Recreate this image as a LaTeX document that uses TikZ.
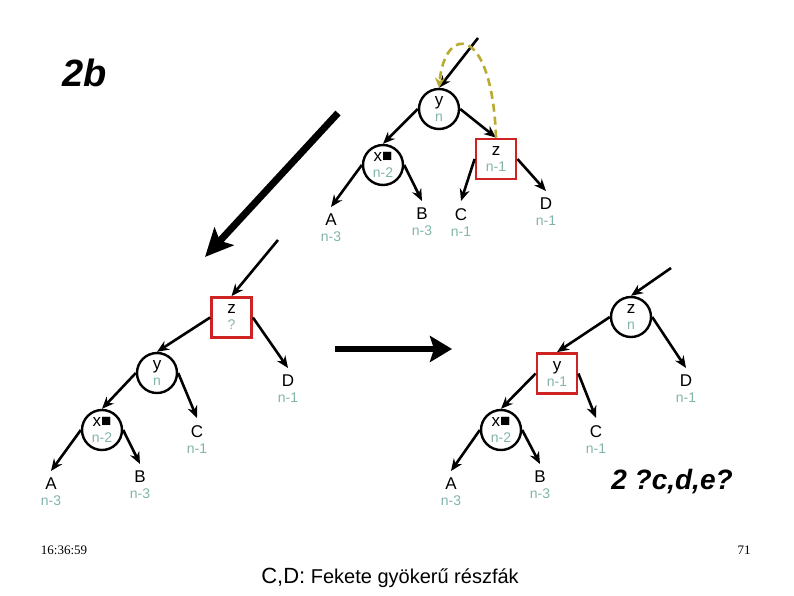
\documentclass[tikz,border=0pt]{standalone}
\usepackage{fontspec}
\setmainfont{Liberation Sans}
\newfontfamily\timefont{Liberation Serif}
\usetikzlibrary{arrows.meta,positioning}
\definecolor{hcol}{RGB}{130,180,170}
\definecolor{boxred}{RGB}{205,35,35}
\definecolor{swapcol}{RGB}{185,170,50}
% key over height
\newcommand{\kv}[2]{#1\\[-1pt]{\color{hcol}\fontsize{14}{14}\selectfont #2}}

\begin{document}
\begin{tikzpicture}[x=1pt,y=-1pt,
  node font=\fontsize{17}{17}\selectfont,
  rb/.style={circle,draw,line width=2.4pt,minimum size=40pt,inner sep=0pt,align=center},
  bb/.style={draw=boxred,line width=2.8pt,minimum size=40pt,inner sep=0pt,align=center},
  lf/.style={anchor=north,align=center,inner sep=7pt},
  edge/.style={line width=2.6pt,-{Stealth[length=12pt,width=10pt]}}]
  \useasboundingbox (0,0) rectangle (794,595);

  % upper tree
  \coordinate (tin) at (478,38);
  \node[rb] (ty) at (439,109) {\kv{y}{n}};
  \node[rb] (tx) at (383,165) {\kv{x■}{n-2}};
  \node[bb] (tz) at (496,159) {\kv{z}{n-1}};
  \node[lf] (tA) at (331,207) {\kv{A}{n-3}};
  \node[lf] (tB) at (422,201) {\kv{B}{n-3}};
  \node[lf] (tC) at (461,201) {\kv{C}{n-1}};
  \node[lf] (tD) at (546,191) {\kv{D}{n-1}};
  \draw[edge] (tin) -- (ty.north);
  \draw[edge] (ty.west) -- (tx.north);
  \draw[edge] (ty.east) -- (tz.north);
  \draw[edge] (tx.west) -- (tA.north);
  \draw[edge] (tx.east) -- (tB.north);
  \draw[edge] (tz.west) -- (tC.north);
  \draw[edge] (tz.east) -- (tD.north);
  \draw[swapcol,line width=2.6pt,dash pattern=on 8pt off 5pt,-{Stealth[length=10pt,width=10pt]}]
    (tz.north) .. controls (492,24) and (445,24) .. (ty.north);

  % rotation arrows
  \coordinate (bigS) at (338,113);
  \coordinate (bigE) at (205,257);
  \draw[line width=7pt,-{Stealth[length=28pt,width=26pt,inset=6pt]}] (bigS) -- (bigE);
  \coordinate (midS) at (335,349);
  \coordinate (midE) at (452,349);
  \draw[line width=6pt,-{Stealth[length=22pt,width=26pt,inset=4pt]}] (midS) -- (midE);

  % left tree
  \coordinate (lin) at (278,240);
  \node[bb] (lz) at (231.5,317.5) {\kv{z}{?}};
  \node[rb] (ly) at (157,373) {\kv{y}{n}};
  \node[rb] (lx) at (102,430) {\kv{x■}{n-2}};
  \node[lf] (lD) at (288,368) {\kv{D}{n-1}};
  \node[lf] (lC) at (197,418) {\kv{C}{n-1}};
  \node[lf] (lA) at (51,471) {\kv{A}{n-3}};
  \node[lf] (lB) at (140,464) {\kv{B}{n-3}};
  \draw[edge] (lin) -- (lz.north);
  \draw[edge] (lz.west) -- (ly.north);
  \draw[edge] (lz.east) -- (lD.north);
  \draw[edge] (ly.west) -- (lx.north);
  \draw[edge] (ly.east) -- (lC.north);
  \draw[edge] (lx.west) -- (lA.north);
  \draw[edge] (lx.east) -- (lB.north);

  % right tree
  \coordinate (rin) at (671,268);
  \node[rb] (rz) at (631,317) {\kv{z}{n}};
  \node[bb] (ry) at (557,373.5) {\kv{y}{n-1}};
  \node[rb] (rx) at (501,430) {\kv{x■}{n-2}};
  \node[lf] (rD) at (686,368) {\kv{D}{n-1}};
  \node[lf] (rC) at (596,418) {\kv{C}{n-1}};
  \node[lf] (rA) at (451,471) {\kv{A}{n-3}};
  \node[lf] (rB) at (540,464) {\kv{B}{n-3}};
  \draw[edge] (rin) -- (rz.north);
  \draw[edge] (rz.west) -- (ry.north);
  \draw[edge] (rz.east) -- (rD.north);
  \draw[edge] (ry.west) -- (rx.north);
  \draw[edge] (ry.east) -- (rC.north);
  \draw[edge] (rx.west) -- (rA.north);
  \draw[edge] (rx.east) -- (rB.north);

  % texts
  \node[font=\fontsize{38}{38}\selectfont\bfseries\itshape] (ttl) at (85,73) {2b};
  \node[font=\fontsize{28}{28}\selectfont\bfseries\itshape] (qst) at (672,482) {2 ?c,d,e?};
  \node[font=\timefont\fontsize{13}{13}\selectfont] (tme) at (64,550) {16:36:59};
  \node[font=\timefont\fontsize{13}{13}\selectfont] (pge) at (744,550) {71};
  \node[font=\fontsize{20}{20}\selectfont] (cap) at (390,578) {{\fontsize{22}{22}\selectfont C,D:} Fekete gyökerű részfák};
\end{tikzpicture}
\end{document}
